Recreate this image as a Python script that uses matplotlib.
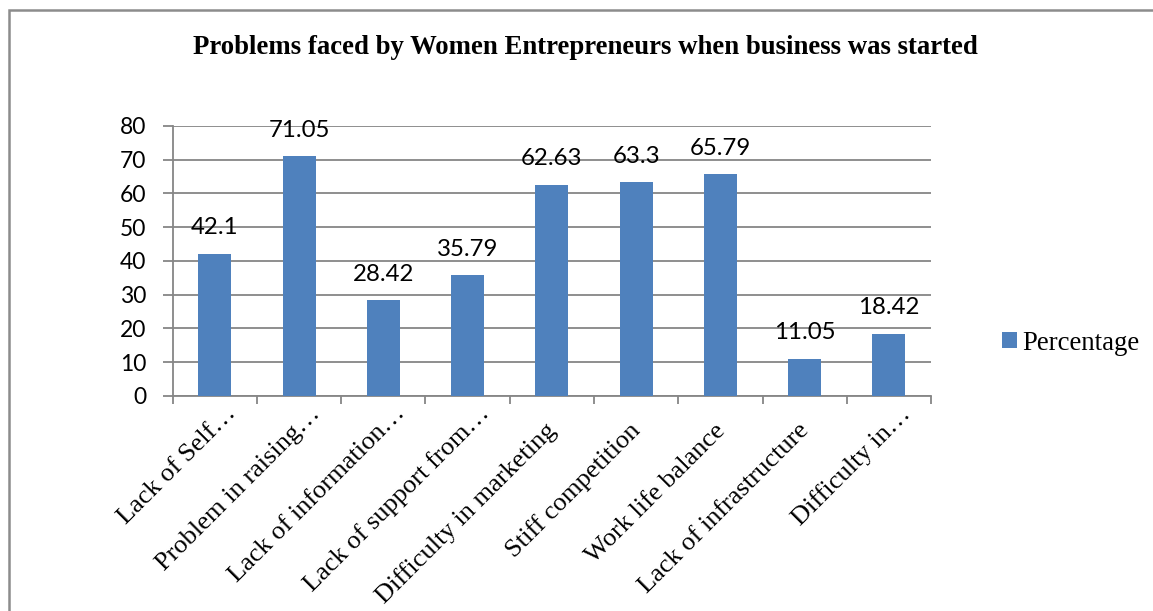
import matplotlib.pyplot as plt
import matplotlib.transforms as mtransforms
from matplotlib.patches import Rectangle

# problemas y porcentajes
categories = [
    "Lack of Self…",
    "Problem in raising…",
    "Lack of information…",
    "Lack of support from…",
    "Difficulty in marketing",
    "Stiff competition",
    "Work life balance",
    "Lack of infrastructure",
    "Difficulty in…",
]
percentages = [42.1, 71.05, 28.42, 35.79, 62.63, 63.3, 65.79, 11.05, 18.42]
yticks = [0, 10, 20, 30, 40, 50, 60, 70, 80]

bar_color = "#4F81BD"
grid_color = "#868686"
sans = ["Lato", "DejaVu Sans"]
serif = ["Liberation Serif", "DejaVu Serif"]

fig = plt.figure(figsize=(11.53, 6.11), dpi=100)
ax = fig.add_axes([0.1498, 0.3519, 0.6577, 0.4419])

x = list(range(len(categories)))
bars = ax.bar(x, percentages, width=0.39, color=bar_color, zorder=3,
              label="Percentage")

ax.set_xlim(-0.5, len(categories) - 0.5)
ax.set_ylim(0, 80)
ax.set_yticks(yticks)
ax.set_yticklabels([str(v) for v in yticks], fontfamily=sans, fontsize=16.5)
ax.yaxis.grid(True, color=grid_color, linewidth=1.3, zorder=0)
ax.tick_params(axis="y", length=7, width=1.3, color=grid_color, pad=12)

# marcas del eje x en los limites de cada categoria
ax.set_xticks([i - 0.5 for i in range(len(categories) + 1)], minor=True)
ax.set_xticks(x)
ax.tick_params(axis="x", which="minor", length=6, width=1.3, color=grid_color)
ax.tick_params(axis="x", which="major", length=0, pad=6)
ax.set_xticklabels(categories, fontfamily=serif, fontsize=19, rotation=45,
                   ha="right", va="center", rotation_mode="anchor")
# las etiquetas cortadas con "…" quedan un poco mas arriba
for lbl in ax.get_xticklabels():
    if lbl.get_text().endswith("…"):
        dx, dy = 18, -6
    else:
        dx, dy = 1, -23
    shift = mtransforms.ScaledTranslation(dx / 100, dy / 100, fig.dpi_scale_trans)
    lbl.set_transform(lbl.get_transform() + shift)

for side in ["top", "right"]:
    ax.spines[side].set_visible(False)
for side in ["left", "bottom"]:
    ax.spines[side].set_color(grid_color)
    ax.spines[side].set_linewidth(1.3)

# valores encima de cada barra
for xi, v in zip(x, percentages):
    ax.annotate(f"{v:g}", (xi, v), xytext=(0, 14), textcoords="offset points",
                ha="center", va="baseline", fontfamily=sans, fontsize=17.3)

fig.text(0.508, 0.922, "Problems faced by Women Entrepreneurs when business was started",
         ha="center", va="center", fontfamily=serif, fontsize=19.3, fontweight="bold")

fig.legend(handles=[bars], labels=["Percentage"], loc="center left",
           bbox_to_anchor=(0.869, 0.438), frameon=False,
           prop={"family": serif, "size": 19.3},
           handlelength=0.55, handleheight=0.55, handletextpad=0.2,
           borderpad=0, borderaxespad=0)

# marco del area del grafico
fig.patches.append(Rectangle((9 / 1153, -0.1), 1.2, (611 - 10) / 611 + 0.1,
                             transform=fig.transFigure, fill=False,
                             edgecolor="#8c8c8c", linewidth=1.8))

fig.savefig("out.png", dpi=100)
